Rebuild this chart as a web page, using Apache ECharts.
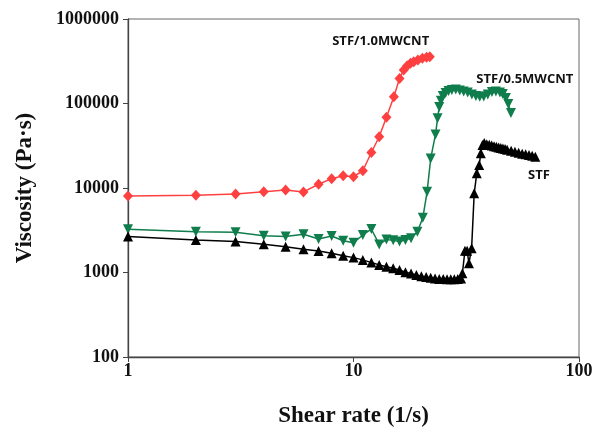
<!DOCTYPE html>
<html>
<head>
<meta charset="utf-8">
<title>Viscosity vs shear rate</title>
<script src="https://cdn.jsdelivr.net/npm/echarts/dist/echarts.min.js"></script>
<style>
  html, body { margin: 0; padding: 0; background: #fff; }
  #main { width: 594px; height: 427px; }
</style>
</head>
<body>
<div id="main"></div>
<script>
// 数据
const xRed = [1, 2, 3, 4, 5, 6, 7, 8, 9, 10, 11, 12, 13, 14, 15.1, 16, 16.7, 17.3, 17.9, 18.5, 19.3, 20.2, 21.1, 21.8]
const yRed = [8040, 8200, 8490, 9040, 9460, 8980, 11070, 12900, 14000, 13600, 16000, 26300, 40400, 68700, 120000, 198000, 249000, 280000, 299000, 312000, 327000, 343000, 352000, 358000]

const xGreen = [1, 2, 3, 4, 5, 6, 7, 8, 9, 10, 11, 12, 13, 14, 15, 16, 17, 18, 19.2, 20.3, 21.2, 22, 23.1, 23.6, 24, 24.4,
  24.9, 25.6, 26.4, 27.3, 28.4, 29.6, 30.8, 32.1, 33.5, 34.9, 36.3, 37.8, 39.4, 41.1, 42.8, 44.6, 45.9, 47.4, 48.6, 49.9]
const yGreen = [3240, 3040, 2990, 2730, 2660, 2830, 2490, 2700, 2380, 2250, 2780, 3270, 2150, 2450, 2400, 2330, 2420, 2550, 3040, 4450, 9000, 22400, 43000, 67000, 91000, 108000,
  122700, 133200, 140600, 144500, 146500, 142500, 138700, 135000, 127800, 122700, 120400, 121000, 127800, 136800, 138700, 135000, 129600, 116200, 98600, 77200]

const xBlack = [1, 2, 3, 4, 5, 6, 7, 8, 9, 10, 11, 12, 13, 14, 15, 16, 17, 18, 19, 20, 21, 22, 23, 24, 25, 26, 27, 28, 29, 30,
  30.4, 31.2, 31.9, 32.5, 33.4, 34.3, 35.2, 36.1, 36.7, 37.3, 38, 39, 40, 41, 42, 43, 44, 45, 46, 47, 48, 50, 52, 54, 56, 58, 60, 62, 64]
const yBlack = [2660, 2430, 2320, 2160, 2020, 1880, 1800, 1690, 1580, 1500, 1410, 1310, 1230, 1170, 1120, 1070, 1010, 975, 935, 905, 885, 865, 850, 840, 835, 830, 830, 830, 835, 850,
  977, 1810, 1810, 1290, 1930, 8650, 14900, 18700, 25800, 32300, 34000, 33000, 32500, 31800, 31200, 30700, 30200, 29800, 29400, 29000, 28400, 27600, 26800, 26100, 25500, 25000, 24500, 24000, 23500]

// series labels placed in data coordinates
const seriesNames = ['STF/1.0MWCNT', 'STF/0.5MWCNT', 'STF']
const labelX = [13.2, 57.5, 66.4]
const labelY = [540000, 195000, 14300]

const pairs = (xs, ys) => xs.map((x, i) => [x, ys[i]])

const serifBold = { fontFamily: 'Liberation Serif', fontWeight: 'bold', color: '#111' }

const makeSeries = (idx, xs, ys, color, symbol, size, rotate) => ({
  name: seriesNames[idx],
  type: 'line',
  data: pairs(xs, ys),
  symbol: symbol,
  symbolSize: size,
  symbolRotate: rotate,
  showAllSymbol: true,
  itemStyle: { color: color },
  lineStyle: { color: color, width: 1.5 },
  markPoint: {
    symbol: 'circle',
    symbolSize: 0,
    data: [{ coord: [labelX[idx], labelY[idx]] }],
    label: {
      show: true,
      position: 'inside',
      formatter: seriesNames[idx],
      fontFamily: 'Open Sans',
      fontWeight: 'bold',
      fontSize: 13,
      color: '#111'
    }
  }
})

const chart = echarts.init(document.getElementById('main'))

chart.setOption({
  animation: false,
  grid: {
    left: 128,
    right: 15,
    top: 19,
    bottom: 70,
    outerBoundsMode: 'none',
    containLabel: false,
    show: true,
    borderColor: '#666',
    borderWidth: 1
  },
  xAxis: {
    type: 'log',
    logBase: 10,
    min: 1,
    max: 100,
    name: 'Shear rate (1/s)',
    nameLocation: 'middle',
    nameGap: 48,
    nameTextStyle: Object.assign({ fontSize: 23 }, serifBold),
    axisLine: { lineStyle: { color: '#444', width: 1.3 } },
    axisTick: { show: true, inside: false, length: 5, lineStyle: { color: '#444' } },
    minorTick: { show: false },
    splitLine: { show: false },
    axisLabel: Object.assign({ fontSize: 18, margin: 5, formatter: (v) => String(v) }, serifBold)
  },
  yAxis: {
    type: 'log',
    logBase: 10,
    min: 100,
    max: 1000000,
    name: 'Viscosity (Pa·s)',
    nameLocation: 'middle',
    nameGap: 91,
    nameTextStyle: Object.assign({ fontSize: 23 }, serifBold),
    axisLine: { lineStyle: { color: '#444', width: 1.3 } },
    axisTick: { show: true, inside: false, length: 5, lineStyle: { color: '#444' } },
    minorTick: { show: false },
    splitLine: { show: false },
    axisLabel: Object.assign({ fontSize: 18, margin: 9, formatter: (v) => String(v) }, serifBold)
  },
  series: [
    makeSeries(0, xRed, yRed, '#FF4040', 'diamond', [10, 11], 0),
    makeSeries(1, xGreen, yGreen, '#0F7D4C', 'triangle', 10, 180),
    makeSeries(2, xBlack, yBlack, '#000000', 'triangle', 10, 0)
  ]
})
</script>
</body>
</html>
